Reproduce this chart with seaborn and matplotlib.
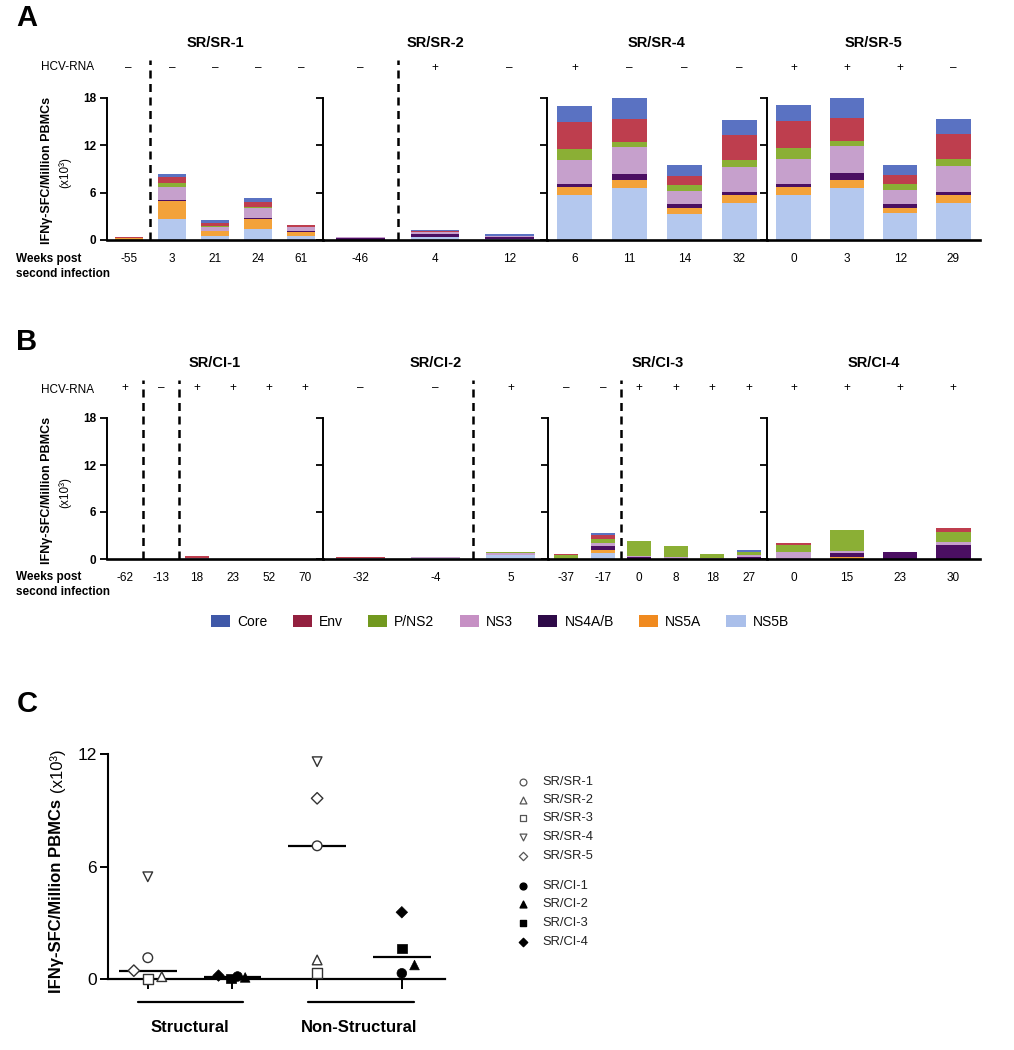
import numpy as np
import pandas as pd
import matplotlib
matplotlib.use("Agg")
import matplotlib.pyplot as plt
import matplotlib.transforms as mtransforms
from matplotlib.patches import Patch
import seaborn as sns

# ---------------- data ----------------
antigens = ["Core", "Env", "P/NS2", "NS3", "NS4A/B", "NS5A", "NS5B"]
bar_colors = ["#5A72C2", "#BE3E4E", "#8BAF35", "#C6A0CC", "#4B0F62", "#F3A23A", "#B4C8EE"]
legend_colors = ["#3F58A8", "#93203F", "#72991F", "#C690C4", "#2E0A48", "#F08A1F", "#AABFEA"]

# Panel A (x10^3 SFC per million PBMC); columns follow `antigens`
subjects_A = ["SR/SR-1", "SR/SR-2", "SR/SR-4", "SR/SR-5"]
weeks_A = [["-55", "3", "21", "24", "61"], ["-46", "4", "12"],
           ["6", "11", "14", "32"], ["0", "3", "12", "29"]]
hcv_A = [["–", "–", "–", "–", "–"], ["–", "+", "–"],
         ["+", "–", "–", "–"], ["+", "+", "+", "–"]]
sr_sr_1 = [[0.00, 0.15, 0.00, 0.00, 0.00, 0.25, 0.00],
           [0.40, 0.70, 0.55, 1.60, 0.20, 2.25, 2.65],
           [0.35, 0.35, 0.10, 0.50, 0.05, 0.60, 0.55],
           [0.50, 0.65, 0.20, 1.20, 0.15, 1.30, 1.35],
           [0.05, 0.20, 0.05, 0.50, 0.05, 0.50, 0.55]]
sr_sr_2 = [[0.00, 0.00, 0.00, 0.15, 0.20, 0.00, 0.00],
           [0.10, 0.15, 0.00, 0.25, 0.35, 0.05, 0.35],
           [0.15, 0.00, 0.00, 0.20, 0.25, 0.00, 0.10]]
sr_sr_4 = [[2.00, 3.50, 1.30, 3.10, 0.40, 1.00, 5.70],
           [2.60, 2.95, 0.65, 3.35, 0.85, 1.00, 6.55],
           [1.40, 1.05, 0.75, 1.70, 0.50, 0.70, 3.35],
           [1.90, 3.15, 0.95, 3.20, 0.40, 0.95, 4.70]]
sr_sr_5 = [[2.00, 3.50, 1.30, 3.15, 0.40, 1.00, 5.75],
           [2.60, 3.00, 0.60, 3.40, 0.85, 1.00, 6.65],
           [1.35, 1.10, 0.80, 1.70, 0.50, 0.70, 3.40],
           [1.95, 3.15, 0.95, 3.25, 0.35, 1.00, 4.75]]
infection_A = [(0, 0.5), (1, 0.5)]

# Panel B
subjects_B = ["SR/CI-1", "SR/CI-2", "SR/CI-3", "SR/CI-4"]
weeks_B = [["-62", "-13", "18", "23", "52", "70"], ["-32", "-4", "5"],
           ["-37", "-17", "0", "8", "18", "27"], ["0", "15", "23", "30"]]
hcv_B = [["+", "–", "+", "+", "+", "+"], ["–", "–", "+"],
         ["–", "–", "+", "+", "+", "+"], ["+", "+", "+", "+"]]
sr_ci_1 = [[0, 0, 0, 0, 0, 0, 0],
           [0, 0, 0, 0, 0, 0, 0],
           [0.00, 0.30, 0.00, 0.10, 0.00, 0.00, 0.00],
           [0, 0, 0, 0, 0, 0, 0],
           [0, 0, 0, 0, 0, 0, 0],
           [0, 0, 0, 0, 0, 0, 0]]
sr_ci_2 = [[0.00, 0.15, 0.00, 0.15, 0.00, 0.00, 0.00],
           [0.00, 0.00, 0.00, 0.15, 0.00, 0.00, 0.10],
           [0.00, 0.05, 0.10, 0.20, 0.00, 0.10, 0.45]]
sr_ci_3 = [[0.00, 0.10, 0.50, 0.00, 0.00, 0.00, 0.00],
           [0.30, 0.50, 0.47, 0.42, 0.50, 0.35, 0.80],
           [0.00, 0.00, 1.95, 0.20, 0.20, 0.00, 0.00],
           [0.00, 0.00, 1.45, 0.25, 0.00, 0.00, 0.00],
           [0.00, 0.00, 0.45, 0.15, 0.00, 0.00, 0.00],
           [0.35, 0.00, 0.40, 0.25, 0.20, 0.00, 0.00]]
sr_ci_4 = [[0.00, 0.20, 0.90, 0.90, 0.00, 0.00, 0.00],
           [0.00, 0.05, 2.65, 0.30, 0.55, 0.20, 0.00],
           [0.00, 0.00, 0.00, 0.00, 0.85, 0.00, 0.00],
           [0.00, 0.50, 1.35, 0.30, 1.85, 0.00, 0.00]]
infection_B = [(0, 0.5), (0, 1.5), (1, 1.5), (2, 1.5)]

# Panel C
subjects_C = ["SR/SR-1", "SR/SR-2", "SR/SR-3", "SR/SR-4", "SR/SR-5",
              "SR/CI-1", "SR/CI-2", "SR/CI-3", "SR/CI-4"]
cohort_C = ["SR/SR"] * 5 + ["SR/CI"] * 4
structural = [1.15, 0.14, 0.00, 5.46, 0.46, 0.15, 0.10, 0.05, 0.20]
nonstructural = [7.11, 1.03, 0.32, 11.59, 9.64, 0.32, 0.76, 1.65, 3.57]
regions = ["Structural", "Non-Structural"]

# ---------------- style ----------------
sns.set_theme(style="white")
plt.rcParams["font.family"] = ["Liberation Sans", "DejaVu Sans"]
plt.rcParams["axes.edgecolor"] = "black"
plt.rcParams["text.color"] = "black"
plt.rcParams["xtick.color"] = "black"
plt.rcParams["ytick.color"] = "black"

W, H = 1014, 1050
fig = plt.figure(figsize=(W / 100, H / 100), dpi=100)
palette = dict(zip(antigens, bar_colors))


def rect(x0, x1, y0, y1):
    return [x0 / W, 1 - y1 / H, (x1 - x0) / W, (y1 - y0) / H]


def draw_bar_panel(tables, subjects, weeks, hcv, marks, ytop, ybot, xb):
    axes = []
    hpx = ybot - ytop
    for k, subj in enumerate(subjects):
        ax = fig.add_axes(rect(xb[k], xb[k + 1], ytop, ybot))
        n = len(weeks[k])
        df = pd.DataFrame(tables[k], columns=antigens)
        df["slot"] = np.arange(n)
        long = df.melt(id_vars="slot", var_name="antigen", value_name="sfc")
        sns.histplot(data=long, x="slot", weights="sfc", hue="antigen",
                     hue_order=antigens, palette=palette, multiple="stack",
                     discrete=True, shrink=0.65, alpha=1, edgecolor="none",
                     linewidth=0, legend=False, ax=ax)
        ax.set_xlim(-0.5, n - 0.5)
        ax.set_ylim(0, 18)
        ax.set_xlabel("")
        ax.set_ylabel("")
        ax.patch.set_alpha(0)
        for s in ["top", "right"]:
            ax.spines[s].set_visible(False)
        ax.spines["left"].set_linewidth(1.4)
        ax.spines["bottom"].set_linewidth(1.9)
        ax.set_yticks([0, 6, 12, 18])
        if k == 0:
            ax.set_yticklabels(["0", "6", "12", "18"], fontsize=8.5, fontweight="bold")
        else:
            ax.set_yticklabels([])
        ax.tick_params(axis="y", length=5, width=1.3, direction="out", pad=3, left=True)
        ax.set_xticks(range(n))
        ax.set_xticklabels(weeks[k], fontsize=8.5)
        ax.tick_params(axis="x", length=0, pad=9.5, bottom=True)
        trans = mtransforms.blended_transform_factory(ax.transData, ax.transAxes)
        hcv_y = (ybot - (ytop - 30)) / hpx
        for i, sym in enumerate(hcv[k]):
            ax.text(i, hcv_y, sym, transform=trans, ha="center", va="center",
                    fontsize=8.5)
        ax.text(0.5, (ybot - (ytop - 55)) / hpx, subj, transform=ax.transAxes,
                ha="center", va="center", fontsize=10.5, fontweight="bold")
        axes.append(ax)
    top = (ybot - (ytop - 38)) / hpx
    for k, xpos in marks:
        ax = axes[k]
        trans = mtransforms.blended_transform_factory(ax.transData, ax.transAxes)
        ax.plot([xpos, xpos], [0, top], transform=trans, clip_on=False,
                color="black", lw=1.8, dashes=(3.2, 2.2))
    return axes


xbA = [107, 323, 547, 767, 980]
xbB = [107, 323, 548, 767, 980]
draw_bar_panel([sr_sr_1, sr_sr_2, sr_sr_4, sr_sr_5], subjects_A, weeks_A, hcv_A,
               infection_A, 98, 240, xbA)
draw_bar_panel([sr_ci_1, sr_ci_2, sr_ci_3, sr_ci_4], subjects_B, weeks_B, hcv_B,
               infection_B, 418, 559, xbB)

# legend for antigens
handles = [Patch(facecolor=c, edgecolor="none", label=a) for a, c in zip(antigens, legend_colors)]
fig.legend(handles=handles, loc="center", bbox_to_anchor=(500 / W, 1 - 622 / H),
           ncol=7, frameon=False, fontsize=10, handlelength=1.4, handleheight=1.0,
           handletextpad=0.5, columnspacing=1.8)

# ---------------- panel C ----------------
dodge_C = {("Structural", "SR/SR-5"): -0.165, ("Structural", "SR/SR-2"): 0.165,
           ("Structural", "SR/CI-4"): -0.165, ("Structural", "SR/CI-3"): -0.02,
           ("Structural", "SR/CI-1"): 0.06, ("Structural", "SR/CI-2"): 0.15,
           ("Non-Structural", "SR/CI-2"): 0.15}
rows = []
for ri, (region, vals) in enumerate(zip(regions, [structural, nonstructural])):
    for s, c, v in zip(subjects_C, cohort_C, vals):
        g = ri * 2 + (0 if c == "SR/SR" else 1)
        rows.append(dict(subject=s, cohort=c, region=region, sfc=v, group=g,
                         xpos=g + dodge_C.get((region, s), 0.0)))
dfC = pd.DataFrame(rows)

marker_map = {"SR/SR-1": "o", "SR/SR-2": "^", "SR/SR-3": "s", "SR/SR-4": "v",
              "SR/SR-5": "D", "SR/CI-1": "o", "SR/CI-2": "^", "SR/CI-3": "s",
              "SR/CI-4": "D"}
size_map = {k: (34 if m == "D" else 48) for k, m in marker_map.items()}

axC = fig.add_axes(rect(108, 445, 754, 979.3))
axC.patch.set_alpha(0)
for g, sub in dfC.groupby("group"):
    axC.hlines(np.median(sub["sfc"]), g - 0.34, g + 0.34, color="black", lw=1.6, zorder=2)

sr = dfC[dfC["cohort"] == "SR/SR"]
ci = dfC[dfC["cohort"] == "SR/CI"]
sns.scatterplot(data=sr, x="xpos", y="sfc", style="subject", size="subject",
                style_order=subjects_C[:5], size_order=subjects_C[:5],
                markers={k: marker_map[k] for k in subjects_C[:5]},
                sizes={k: size_map[k] for k in subjects_C[:5]},
                facecolor="white", edgecolor="#333333", linewidth=1.0,
                legend=False, ax=axC, clip_on=False, zorder=3)
sns.scatterplot(data=ci, x="xpos", y="sfc", style="subject", size="subject",
                style_order=subjects_C[5:], size_order=subjects_C[5:],
                markers={k: marker_map[k] for k in subjects_C[5:]},
                sizes={k: size_map[k] for k in subjects_C[5:]},
                color="black", edgecolor="black", linewidth=0.5,
                legend=False, ax=axC, clip_on=False, zorder=3)
axC.set_xlim(-0.47, 3.51)
axC.set_ylim(0, 12)
axC.set_xlabel("")
axC.set_ylabel("")
for s in ["top", "right"]:
    axC.spines[s].set_visible(False)
axC.spines["left"].set_linewidth(1.5)
axC.spines["bottom"].set_linewidth(1.6)
axC.set_yticks([0, 6, 12])
axC.set_yticklabels(["0", "6", "12"], fontsize=12.5)
axC.set_xticks([0, 1, 2, 3])
axC.set_xticklabels([])
axC.tick_params(axis="y", length=6, width=1.4, direction="out", pad=2, left=True)
axC.tick_params(axis="x", length=7, width=1.4, direction="out", bottom=True)

# ---------------- annotations overlay ----------------
ov = fig.add_axes([0, 0, 1, 1])
ov.set_xlim(0, W)
ov.set_ylim(H, 0)
ov.axis("off")

for letter, (lx, ly) in {"A": (27, 18), "B": (27, 342), "C": (27, 704)}.items():
    ov.text(lx, ly, letter, fontsize=21, fontweight="bold", ha="center", va="center")

for (yc, yx, yhcv, yweek) in [(170, 173, 67.5, 259), (490, 493, 390, 577)]:
    ov.text(47, yc, "IFNγ-SFC/Million PBMCs", rotation=90, ha="center", va="center",
            fontsize=9, fontweight="bold")
    ov.text(65, yx, "(x10³)", rotation=90, ha="center", va="center", fontsize=8.5)
    ov.text(68, yhcv, "HCV-RNA", ha="center", va="center", fontsize=8.5)
    ov.text(16, yweek, "Weeks post", ha="left", va="center", fontsize=8.5, fontweight="bold")
    ov.text(16, yweek + 15, "second infection", ha="left", va="center", fontsize=8.5,
            fontweight="bold")

# panel C labels
ov.text(57, 993, "IFNγ-SFC/Million PBMCs", rotation=90, ha="center", va="bottom",
        fontsize=12, fontweight="bold")
ov.text(57, 792, "(x10³)", rotation=90, ha="center", va="bottom", fontsize=12)
ov.plot([138, 243], [1001.7, 1001.7], color="black", lw=1.6)
ov.plot([308, 414], [1001.7, 1001.7], color="black", lw=1.6)
ov.text(190, 1027, "Structural", ha="center", va="center", fontsize=12, fontweight="bold")
ov.text(359, 1027, "Non-Structural", ha="center", va="center", fontsize=12, fontweight="bold")

# panel C legend
leg_y = [781.7, 799.7, 818.3, 837, 856.3, 885.7, 904.3, 923.3, 942.3]
for s, c, yy in zip(subjects_C, cohort_C, leg_y):
    ms = 18 if marker_map[s] == "D" else 24
    if c == "SR/SR":
        ov.scatter([523], [yy], marker=marker_map[s], s=ms, facecolor="white",
                   edgecolor="#555555", linewidth=0.9)
    else:
        ov.scatter([523], [yy], marker=marker_map[s], s=ms, color="black")
    ov.text(542, yy, s, ha="left", va="center", fontsize=9.3, color="#222222")

fig.savefig("out.png", dpi=100)
